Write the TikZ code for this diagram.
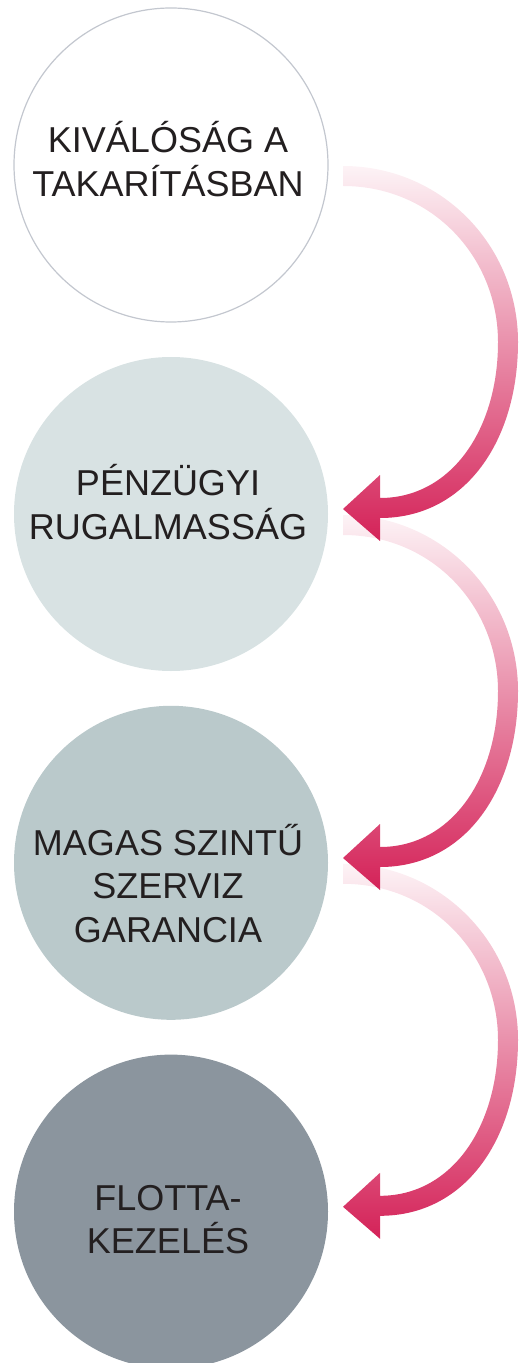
\documentclass[tikz,border=0pt]{standalone}
\usepackage{fontspec}
\setmainfont{Liberation Sans}
\usetikzlibrary{positioning}
\definecolor{ringgray}{RGB}{195,199,207}
\definecolor{bubbleB}{RGB}{216,226,227}
\definecolor{bubbleC}{RGB}{186,201,203}
\definecolor{bubbleD}{RGB}{139,149,158}
\definecolor{labeltext}{RGB}{35,31,32}
\definecolor{arrowlight}{RGB}{253,243,246}
\definecolor{arrowdark}{RGB}{212,34,88}
\tikzstyle{bubble} = [circle, minimum size=157pt, inner sep=0pt]
\tikzstyle{caption} = [anchor=south, inner sep=0pt, align=center, text=labeltext, font=\fontsize{18pt}{21.75pt}\selectfont]
\tikzstyle{hookarrow} = [top color=arrowlight, bottom color=arrowdark]

\begin{document}
\begin{tikzpicture}[x=0.5pt, y=-0.5pt]
\useasboundingbox (0,0) rectangle (528,1363);

% Nodes
\node (c1) [bubble, fill=white, draw=ringgray, line width=0.6pt] at (171,165) {};
\node (c2) [bubble, fill=bubbleB, below=17pt of c1] {};
\node (c3) [bubble, fill=bubbleC, below=17pt of c2] {};
\node (c4) [bubble, fill=bubbleD, below=17pt of c3] {};

\node (t1) [caption] at ([xshift=-1.5pt, yshift=-16pt]c1.center) {KIVÁLÓSÁG A\\TAKARÍTÁSBAN};
\node (t2) [caption] at ([xshift=-1.5pt, yshift=-13pt]c2.center) {PÉNZÜGYI\\RUGALMASSÁG};
\node (t3) [caption] at ([xshift=-1.5pt, yshift=-40pt]c3.center) {MAGAS SZINTŰ\\SZERVIZ\\GARANCIA};
\node (t4) [caption] at ([xshift=-1.5pt, yshift=-21.5pt]c4.center) {FLOTTA-\\KEZELÉS};

% Arrows (drawn from the bottom up, so each head lies over the next tail)
\foreach \from in {3,2,1} {
  \begin{scope}[shift={(c\from.center)}]
    \shade[hookarrow] (172,1) .. controls (270,1) and (347,80) .. (347,177)
      .. controls (347,275) and (295,353) .. (209,353) -- (209,376) -- (172,344) -- (209,310) -- (209,333)
      .. controls (280,333) and (327,265) .. (327,177)
      .. controls (327,93) and (262,21) .. (172,21) -- cycle;
  \end{scope}
}

\end{tikzpicture}
\end{document}
